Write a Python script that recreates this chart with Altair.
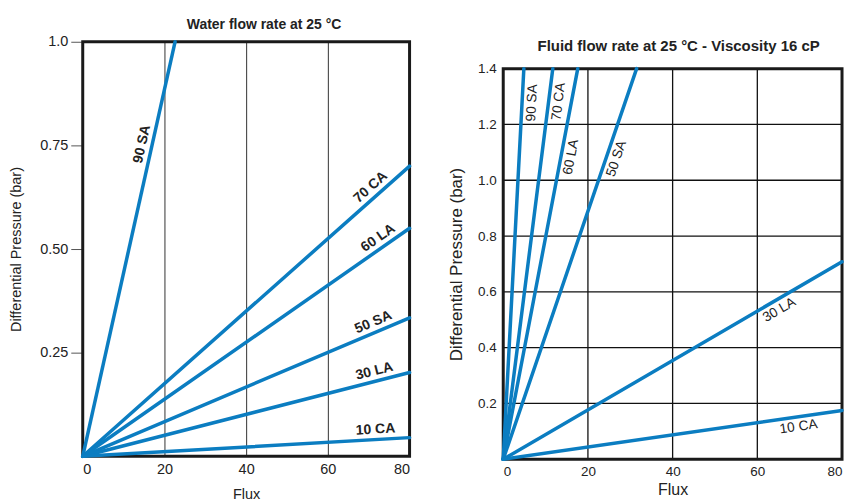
import math
import altair as alt
import pandas as pd

FONT = "Liberation Sans, Arial, Helvetica, sans-serif"
BLUE = "#0b7dc1"
INK = "#222222"
FRAME = "#1a1a1a"

series = ["90 SA", "70 CA", "60 LA", "50 SA", "30 LA", "10 CA"]

# Water flow rate at 25 °C
w_end_flux = [22.6, 80, 80, 80, 80, 80]
w_end_dp = [1.0, 0.70, 0.55, 0.334, 0.202, 0.045]
w_label_flux = [16.9, 72.1, 73.7, 72.1, 72.0, 71.8]
w_dp_ticks = [0.25, 0.5, 0.75, 1.0]

# Fluid flow rate at 25 °C - Viscosity 16 cP
f_end_flux = [4.87, 11.7, 17.6, 31.5, 80, 80]
f_end_dp = [1.4, 1.4, 1.4, 1.4, 0.708, 0.175]
f_label_flux = [4.45, 10.75, 13.7, 24.5, 64.0, 69.4]
f_dp_ticks = [0.2, 0.4, 0.6, 0.8, 1.0, 1.2, 1.4]

flux_ticks = [0, 20, 40, 60, 80]
XMAX = 80

# plot sizes (px)
WL, HL, YL = 328, 416, 1.0
WR, HR, YR = 340, 392, 1.4
R_TOP = 27            # right plot starts this far below the left plot's top
HR_GROUP = HR + R_TOP


def line_table(end_flux, end_dp):
    rows = []
    for s, fx, dp in zip(series, end_flux, end_dp):
        rows.append({"series": s, "flux": 0.0, "dp": 0.0})
        rows.append({"series": s, "flux": fx, "dp": dp})
    return pd.DataFrame(rows)


def label_table(end_flux, end_dp, label_flux, W, H, ymax):
    rows = []
    for s, fx, dp, lf in zip(series, end_flux, end_dp, label_flux):
        run = fx / XMAX * W
        rise = dp / ymax * H
        ang = (360 - math.degrees(math.atan2(rise, run))) % 360
        rows.append({"series": s, "flux": lf, "dp": dp / fx * lf, "angle": ang})
    return pd.DataFrame(rows)


def frame_layer(ymax, xs, ys):
    df = pd.DataFrame([{"flux": 0, "flux2": XMAX, "dp": 0, "dp2": ymax}])
    return alt.Chart(df).mark_rect(fillOpacity=0, stroke=FRAME, strokeWidth=3).encode(
        x=alt.X("flux:Q", scale=xs), x2="flux2:Q",
        y=alt.Y("dp:Q", scale=ys), y2="dp2:Q",
    )


def curve_layers(end_flux, end_dp, label_flux, W, H, ymax, xs, ys,
                 label_dy, label_weight, label_size):
    lines = line_table(end_flux, end_dp)
    labels = label_table(end_flux, end_dp, label_flux, W, H, ymax)
    ln = alt.Chart(lines).mark_line(color=BLUE, strokeWidth=3.5, strokeCap="round").encode(
        x=alt.X("flux:Q", scale=xs), y=alt.Y("dp:Q", scale=ys), detail="series:N"
    )
    tx = alt.Chart(labels).mark_text(
        font=FONT, fontSize=label_size, fontWeight=label_weight, color=INK,
        baseline="middle", align="center", dy=label_dy
    ).encode(
        x=alt.X("flux:Q", scale=xs),
        y=alt.Y("dp:Q", scale=ys),
        text="series:N",
        angle=alt.Angle("angle:Q", scale=None),
    )
    return ln, tx


# ---------- left panel ----------
xs_l = alt.Scale(domain=[0, XMAX], nice=False)
ys_l = alt.Scale(domain=[0, YL], nice=False)
l_axes = alt.Chart(pd.DataFrame({"flux": flux_ticks})).mark_rule(opacity=0).encode(
    x=alt.X("flux:Q", scale=xs_l,
            axis=alt.Axis(values=flux_ticks, title="Flux", grid=True, gridColor="#333",
                          gridWidth=1, domain=False, ticks=False, labelFontSize=14.5,
                          labelPadding=6, format="d", titleFontSize=14.5, titlePadding=12)),
    y=alt.Y("dp:Q", scale=ys_l,
            axis=alt.Axis(values=w_dp_ticks, title="Differential Pressure (bar)", grid=False,
                          domain=False, ticks=True, tickSize=12, tickColor="#555", tickWidth=1,
                          labelExpr="datum.value == 1 ? '1.0' : format(datum.value, '.2f')",
                          labelFontSize=14.5, labelPadding=3, titleFontSize=14.5,
                          titlePadding=16)),
).transform_calculate(dp="0")
l_ln, l_tx = curve_layers(w_end_flux, w_end_dp, w_label_flux, WL, HL, YL, xs_l, ys_l,
                          -10, "bold", 14)
left = alt.layer(l_axes, frame_layer(YL, xs_l, ys_l), l_ln, l_tx).properties(
    width=WL, height=HL,
    title=alt.TitleParams("Water flow rate at 25 °C", font=FONT, fontSize=14,
                          fontWeight="bold", color=INK, anchor="middle", dx=18, offset=2),
)

# ---------- right panel ----------
xs_r = alt.Scale(domain=[0, XMAX], nice=False)
ys_r = alt.Scale(domain=[0, YR], nice=False, range=[HR_GROUP, R_TOP])
vgrid = pd.DataFrame({"flux": flux_ticks[1:-1]})
vgrid["dp"] = 0.0
vgrid["dp2"] = YR
hgrid = pd.DataFrame({"dp": f_dp_ticks[:-1]})
hgrid["flux"] = 0.0
hgrid["flux2"] = XMAX
r_vgrid = alt.Chart(vgrid).mark_rule(color="#111", strokeWidth=1.3).encode(
    x=alt.X("flux:Q", scale=xs_r,
            axis=alt.Axis(values=flux_ticks, title="Flux", grid=False, domain=False,
                          ticks=False, labelFontSize=13.5, labelPadding=5, format="d",
                          labelFlush=True, titleFontSize=16, titlePadding=4)),
    y=alt.Y("dp:Q", scale=ys_r,
            axis=alt.Axis(values=f_dp_ticks, title="Differential Pressure (bar)", grid=False,
                          domain=False, ticks=False, format=".1f", labelFontSize=13.5,
                          labelPadding=7, titleFontSize=17, titlePadding=12)),
    y2="dp2:Q",
)
r_hgrid = alt.Chart(hgrid).mark_rule(color="#111", strokeWidth=1.3).encode(
    x=alt.X("flux:Q", scale=xs_r), x2="flux2:Q", y=alt.Y("dp:Q", scale=ys_r)
)
r_ln, r_tx = curve_layers(f_end_flux, f_end_dp, f_label_flux, WR, HR, YR, xs_r, ys_r,
                          10, "normal", 13.7)
right = alt.layer(r_vgrid, r_hgrid, frame_layer(YR, xs_r, ys_r), r_ln, r_tx).properties(
    width=WR, height=HR_GROUP,
    title=alt.TitleParams("Fluid flow rate at 25 °C - Viscosity 16 cP", font=FONT,
                          fontSize=15, fontWeight="bold", color=INK, anchor="middle",
                          offset=0, dy=12, dx=6),
)

chart = alt.hconcat(left, right, spacing=31).properties(
    padding={"left": 0, "top": 9, "right": -2, "bottom": 0}
).configure_view(
    strokeWidth=0
).configure_axis(
    labelFont=FONT, titleFont=FONT, labelColor=INK, titleColor=INK,
    titleFontWeight="normal"
)

chart.save("out.html", embed_options={"renderer": "svg", "actions": False})
